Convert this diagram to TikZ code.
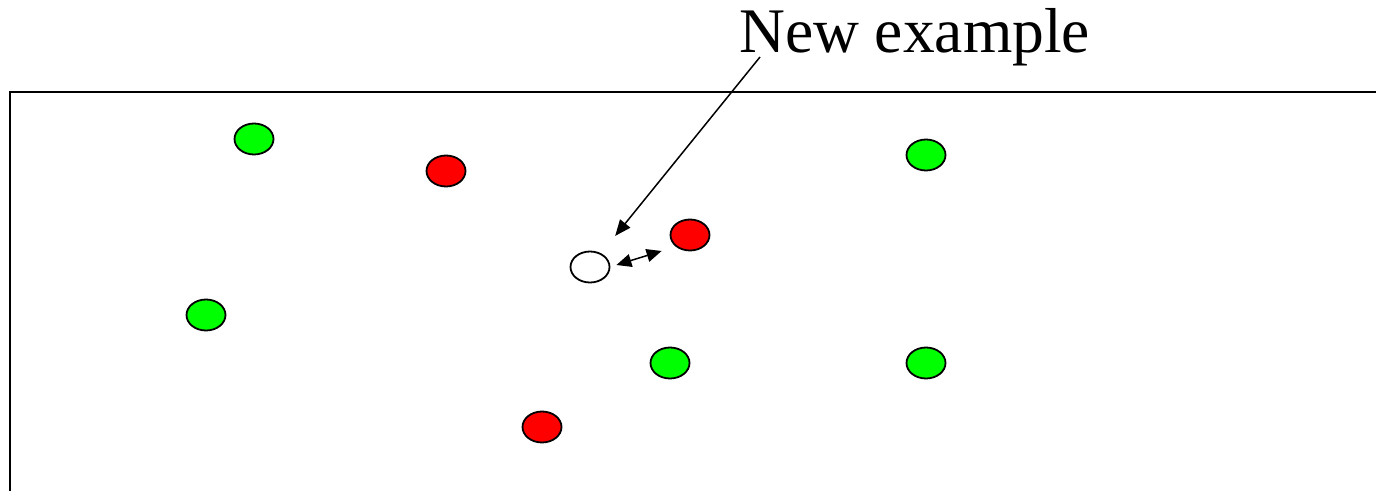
\documentclass[tikz,border=0pt]{standalone}
\usepackage{fontspec}
\setmainfont{Liberation Serif}
\usetikzlibrary{shapes.geometric,arrows.meta,calc}
\begin{document}
\begin{tikzpicture}[x=1pt,y=-1pt,
  dotbase/.style={ellipse,draw=black,line width=1.8pt,minimum width=39pt,minimum height=31pt,inner sep=0pt},
  posdot/.style={dotbase,fill=green},
  negdot/.style={dotbase,fill=red},
  querydot/.style={dotbase,fill=white},
  pointer/.style={line width=1.5pt,-{Triangle[length=16pt,width=13pt]}},
  pointerboth/.style={line width=1.5pt,{Triangle[length=15pt,width=13pt]}-{Triangle[length=15pt,width=13pt]}}]
  \useasboundingbox (0,0) rectangle (1376,490);
  \fill[white] (0,0) rectangle (1376,490);
  % frame (open at right and bottom)
  \draw[line width=2pt] (10,495) -- (10,92) -- (1380,92);
  % labelled examples
  \node[posdot] (g1) at (254,139) {};
  \node[negdot] (r1) at (446,171) {};
  \node[posdot] (g2) at (926,155) {};
  \node[negdot] (r2) at (690,235) {};
  \node[posdot] (g3) at (206,315) {};
  \node[posdot] (g4) at (670,363) {};
  \node[posdot] (g5) at (926,363) {};
  \node[negdot] (r3) at (542,427) {};
  % unlabelled example
  \node[querydot] (q) at (590,267) {};
  % caption
  \node[font=\fontsize{63.5}{63.5}\selectfont,anchor=base west,inner sep=0pt] (lbl) at (739,52) {New example};
  \coordinate (lblfoot) at (760,57);
  \draw[pointer,shorten >=40pt] (lblfoot) -- (q.center);
  % distance to nearest neighbour
  \draw[pointerboth] ($(q.east)+(6,-2)$) -- ($(r2.west)+(-8,16)$);
\end{tikzpicture}
\end{document}
